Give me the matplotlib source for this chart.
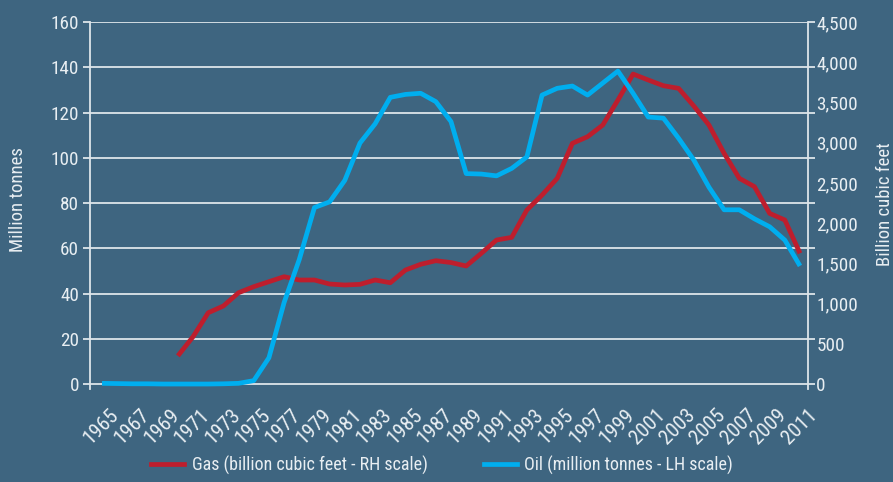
import matplotlib
matplotlib.use("Agg")
import matplotlib.pyplot as plt
from matplotlib.ticker import FuncFormatter
from matplotlib.lines import Line2D
from matplotlib.transforms import ScaledTranslation
import matplotlib.font_manager as fm

names = {f.name for f in fm.fontManager.ttflist}
fam = None
for cand in ['Roboto Condensed', 'Open Sans Condensed', 'Liberation Sans Narrow', 'Lato']:
    if cand in names:
        fam = cand
        break
plt.rcParams['font.family'] = [fam, 'DejaVu Sans']

years_oil = list(range(1965, 2012))
oil = [0.3, 0.2, 0.1, 0.1, 0.0, 0.0, 0.0, 0.0, 0.1, 0.3, 1.5, 11.6, 36, 55,
       78, 80.5, 90, 106.5, 115, 126.7, 128, 128.5, 124.8, 116, 93, 92.8,
       92, 95.3, 100.4, 127.7, 130.7, 131.7, 127.7, 133, 138.3, 128.5, 118,
       117.5, 108.6, 99, 87, 77, 77, 73, 69.5, 63.6, 52.2]

years_gas = list(range(1970, 2012))
gas = [350, 588, 886, 970, 1135, 1210, 1272, 1334, 1293, 1293, 1243, 1231,
       1239, 1293, 1259, 1417, 1488, 1533, 1510, 1467, 1625, 1790, 1823,
       2163, 2349, 2557, 2992, 3074, 3219, 3530, 3853, 3779, 3708, 3675,
       3456, 3219, 2867, 2557, 2453, 2121, 2039, 1625]

left_ticks = [0, 20, 40, 60, 80, 100, 120, 140, 160]
right_ticks = [0, 500, 1000, 1500, 2000, 2500, 3000, 3500, 4000, 4500]
xtick_years = list(range(1965, 2012, 2))

BG = '#3e6580'
TXT = '#e8eef2'
GRID = '#dde5ea'
OIL_C = '#00aeef'
GAS_C = '#be1e2d'
LW = 3.4

narrow = fam != 'Lato'
FS_Y = 13.8 if narrow else 12.5
FS_X = 15 if narrow else 12
FS_L = 13 if narrow else 12.5

fig = plt.figure(figsize=(8.93, 4.82), dpi=100, facecolor=BG)
axg = fig.add_axes([90/893, 1-389/482, 718/893, 367/482])
axg.set_facecolor(BG)
ax2 = axg.twinx()   # gas, right scale
ax = axg.twinx()    # oil, left scale (drawn on top)

x0 = 1965 - 12/15.17
x1 = 2011 + 8/15.17
axg.set_xlim(x0, x1)
axg.set_ylim(-2.2, 160)
ax.set_ylim(-2.2, 160)
ax2.set_ylim(-2.2*28.125, 4500)

ax2.plot(years_gas, gas, color=GAS_C, lw=LW, solid_capstyle='butt')
ax.plot(years_oil, oil, color=OIL_C, lw=LW, solid_capstyle='butt')

axg.set_yticks(left_ticks)
axg.grid(axis='y', color=GRID, lw=1.3)
axg.tick_params(axis='y', left=True, right=True, labelleft=True, labelright=False,
                colors=GRID, labelcolor=TXT, labelsize=FS_Y, length=5, width=1.3, pad=3)
axg.set_xticks(xtick_years)
axg.set_xticklabels([str(y) for y in xtick_years], rotation=45, ha='right',
                    rotation_mode='anchor', color=TXT, fontsize=FS_X)
axg.tick_params(axis='x', length=0, pad=12)

ax2.set_yticks(right_ticks)
ax2.yaxis.set_major_formatter(FuncFormatter(lambda v, p: f'{int(v):,}'))
ax2.tick_params(axis='y', right=True, left=False, labelright=True, labelleft=False,
                length=0, labelcolor=TXT, labelsize=FS_Y, pad=6)

ax.set_yticks([])

for a in (axg, ax, ax2):
    for s in a.spines.values():
        s.set_visible(False)
for s in ('left', 'right'):
    axg.spines[s].set_visible(True)
    axg.spines[s].set_color(GRID)
    axg.spines[s].set_linewidth(1.3)

fig.text(18/893, 1-200/482, 'Million tonnes', rotation=90, color=TXT, fontsize=FS_L + 0.5,
         ha='center', va='center')
fig.text(885/893, 1-204/482, 'Billion cubic feet', rotation=90, color=TXT, fontsize=FS_L + 0.5,
         ha='center', va='center')

h_gas = Line2D([], [], color=GAS_C, lw=LW)
h_oil = Line2D([], [], color=OIL_C, lw=LW)
fig.legend([h_gas, h_oil], ['Gas (billion cubic feet - RH scale)', 'Oil (million tonnes - LH scale)'],
           loc='center', bbox_to_anchor=(442/893, 1-465/482), ncol=2, frameon=False,
           fontsize=FS_L, labelcolor=TXT, handlelength=1.85 if narrow else 2.1,
           handletextpad=0.4, columnspacing=3.1 if narrow else 3.0)

off = ScaledTranslation(7/100, 0, fig.dpi_scale_trans)
for lab in axg.get_xticklabels():
    lab.set_transform(lab.get_transform() + off)

fig.savefig('out.png', dpi=100, facecolor=BG)
